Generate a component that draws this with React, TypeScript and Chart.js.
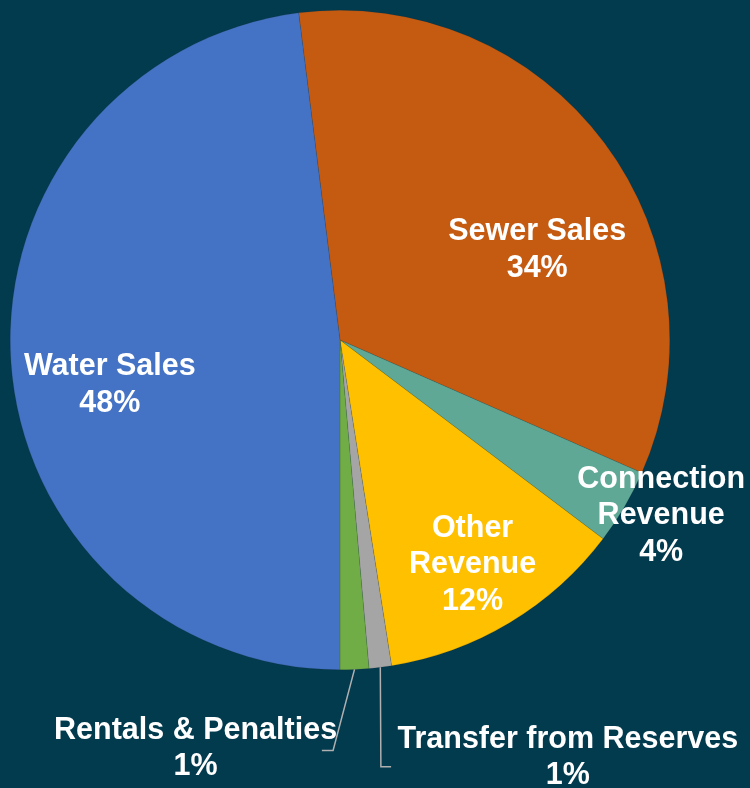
import React, { useEffect, useRef } from "react";
import { Chart, registerables } from "chart.js";

Chart.register(...registerables);

const categories = [
  "Sewer Sales",
  "Connection Revenue",
  "Other Revenue",
  "Transfer from Reserves",
  "Rentals & Penalties",
  "Water Sales",
];
const shares = [33.6, 3.7, 12.2, 1.1, 1.4, 48.0];
const labelLines = [
  ["Sewer Sales"],
  ["Connection", "Revenue"],
  ["Other", "Revenue"],
  ["Transfer from Reserves"],
  ["Rentals & Penalties"],
  ["Water Sales"],
];
const colors = ["#C55A11", "#5FA896", "#FFC000", "#A5A5A5", "#70AD47", "#4472C4"];

const BG = "#023A4E";

// label centre offsets (fractions of outer radius from pie centre)
const labelOffsets: [number, number][] = [
  [0.598, -0.273],
  [0.974, 0.533],
  [0.402, 0.682],
  [0.691, 1.267],
  [-0.438, 1.239],
  [-0.698, 0.136],
];
// leader lines: elbow and end points (fractions of radius), null = no line
const leaders: ([number, number][] | null)[] = [
  null,
  null,
  null,
  [[0.124, 1.294], [0.155, 1.294]],
  [[-0.021, 1.245], [-0.055, 1.245]],
  null,
];

const labelPlugin = {
  id: "pieLabels",
  beforeDraw(chart: any) {
    const ctx = chart.ctx;
    ctx.save();
    ctx.fillStyle = BG;
    ctx.fillRect(0, 0, chart.width, chart.height);
    ctx.restore();
  },
  afterDraw(chart: any) {
    const ctx = chart.ctx;
    const meta = chart.getDatasetMeta(0);
    const total = shares.reduce((a, b) => a + b, 0);
    ctx.save();
    meta.data.forEach((arc: any, i: number) => {
      const cx = arc.x;
      const cy = arc.y;
      const r = arc.outerRadius;
      const lead = leaders[i];
      if (lead) {
        const mid = (arc.startAngle + arc.endAngle) / 2;
        ctx.beginPath();
        ctx.strokeStyle = "#B0B0B0";
        ctx.lineWidth = 1.5;
        ctx.moveTo(cx + r * Math.cos(mid), cy + r * Math.sin(mid));
        lead.forEach(([fx, fy]) => ctx.lineTo(cx + fx * r, cy + fy * r));
        ctx.stroke();
      }
      const pct = Math.round((shares[i] / total) * 100) + "%";
      const lines = [...labelLines[i], pct];
      const lh = 36.5;
      const [ox, oy] = labelOffsets[i];
      const lx = cx + ox * r;
      const ly = cy + oy * r;
      ctx.fillStyle = "#FFFFFF";
      ctx.font = "bold 30.5px 'Liberation Sans', Arial, sans-serif";
      ctx.textAlign = "center";
      ctx.textBaseline = "middle";
      const top = ly - ((lines.length - 1) * lh) / 2;
      lines.forEach((t, k) => ctx.fillText(t, lx, top + k * lh));
    });
    ctx.restore();
  },
};

export default function App() {
  const ref = useRef<HTMLCanvasElement>(null);
  useEffect(() => {
    if (!ref.current) return;
    const chart = new Chart(ref.current, {
      type: "pie",
      data: {
        labels: categories,
        datasets: [
          {
            data: shares,
            backgroundColor: colors,
            borderWidth: 0.5,
            borderColor: "rgba(40,40,40,0.25)",
          },
        ],
      },
      options: {
        responsive: false,
        animation: false,
        rotation: -7.2,
        layout: { padding: { left: 10, top: 10, right: 80, bottom: 118 } },
        plugins: {
          legend: { display: false },
          tooltip: { enabled: false },
        },
      },
      plugins: [labelPlugin],
    });
    return () => chart.destroy();
  }, []);
  return (
    <div style={{ position: "fixed", left: 0, top: 0, width: 750, height: 788, background: BG }}>
      <canvas ref={ref} width={750} height={788} />
    </div>
  );
}
